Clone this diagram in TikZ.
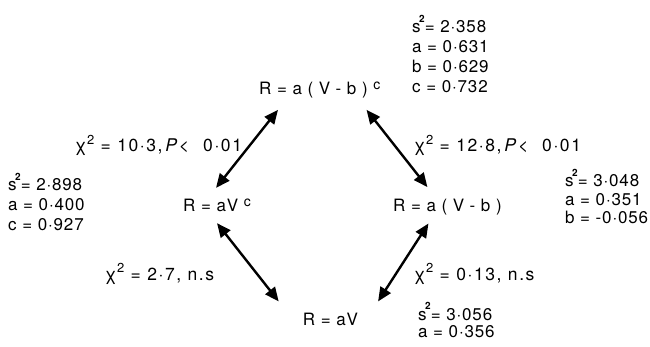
\documentclass[tikz,border=0pt]{standalone}
\usepackage{fontspec}
\setmainfont[LetterSpace=5]{TeX Gyre Heros}
\usetikzlibrary{arrows.meta, calc}
\tikzset{
  model/.style={anchor=base west, inner sep=1pt, font=\fontsize{17}{20}\selectfont},
  fitval/.style={anchor=base west, inner sep=0pt, align=left, font=\fontsize{17}{#1}\selectfont},
  fitval/.default=20,
  chilabel/.style={anchor=base west, inner sep=0pt, font=\fontsize{17.5}{20}\selectfont\addfontfeatures{LetterSpace=9}},
  twoway/.style={{Triangle[length=14pt,width=12pt]}-{Triangle[length=14pt,width=12pt]}, line width=2.4pt}
}
\newcommand{\expc}{\raisebox{0.3em}{\fontsize{14}{16}\selectfont c}}
\newcommand{\ssq}{s\kern-1.5pt\raisebox{0.6em}{\fontsize{10}{12}\selectfont\bfseries 2}}
\newcommand{\chitwo}{χ\kern0.5pt\raisebox{0.42em}{\fontsize{13}{15}\selectfont 2}}

\begin{document}
\begin{tikzpicture}[x=1pt, y=-1pt]
  \useasboundingbox (0,0) rectangle (650,347);

  % the four models
  \node[model] (full) at (258,95) {R = a ( V - b )\,\,\expc};
  \node[model] (power) at (182,211.7) {R = aV\,\,\expc};
  \node[model] (shift) at (392,211.7) {R = a ( V - b )};
  \node[model] (linear) at (301.7,325) {R = aV};

  % fitted values (anchored at the last line)
  \node[fitval] (fullfit) at (412,93) {\ssq= 2·358\\a = 0·631\\b = 0·629\\c = 0·732};
  \node[fitval] (powerfit) at (8,230.7) {\ssq= 2·898\\a = 0·400\\c = 0·927};
  \node[fitval=18.5] (shiftfit) at (565,224) {\ssq= 3·048\\a = 0·351\\b = -0·056};
  \node[fitval=17] (linearfit) at (418,337) {\ssq= 3·056\\a = 0·356};

  % comparisons
  \node[chilabel] (fullpower) at (75,151.7) {\chitwo{} = 10·3,\,\textit{P}<\hspace{14pt}0·01};
  \node[chilabel] (fullshift) at (414,151.7) {\chitwo{} = 12·8,\,\textit{P}<\hspace{14pt}0·01};
  \node[chilabel] (powerlinear) at (105,280) {\chitwo{} = 2·7, n.s};
  \node[chilabel] (shiftlinear) at (414,280) {\chitwo{} = 0·13, n.s};

  \draw[twoway] ($(full.south west)+(20,10)$) -- ($(power.north)+(-1,-10)$);
  \draw[twoway] ($(full.south east)+(-15,10)$) -- ($(shift.north)+(-20,-11)$);
  \draw[twoway] ($(power.south)+(0,10)$) -- ($(linear.north west)+(-23,-10)$);
  \draw[twoway] ($(shift.south)+(-19,7)$) -- ($(linear.north east)+(19,-10)$);
\end{tikzpicture}
\end{document}
